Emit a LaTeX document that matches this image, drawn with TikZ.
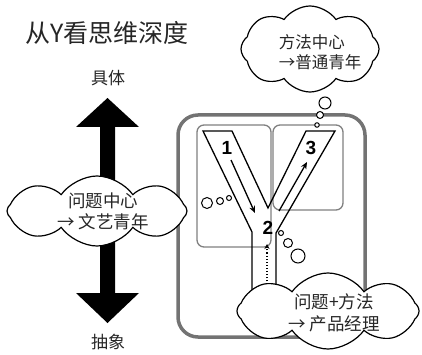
\documentclass[tikz,border=0pt]{standalone}
\usepackage{fontspec}
\setmainfont{Noto Sans CJK SC}
\newfontfamily\numfont{Liberation Sans}
\usetikzlibrary{shapes.symbols,arrows.meta}
\begin{document}
\begin{tikzpicture}[x=1pt,y=-1pt,
  txt/.style={text=black!85, inner sep=0pt},
  thought/.style={cloud, cloud puffs=8, cloud puff arc=110, cloud ignores aspect, draw=black, line width=1.2pt, fill=white, inner sep=0pt},
  bubble/.style={circle, draw=black, line width=1pt, fill=white, inner sep=0pt},
  panel/.style={draw=black!50, line width=1.3pt, rounded corners=7pt},
  frame/.style={draw=black!55, line width=3.5pt, rounded corners=20pt},
  yline/.style={draw=black, line width=1.3pt, line join=miter},
  flow/.style={draw=black, line width=1.3pt, -{Stealth[length=7pt,width=6pt]}},
  num/.style={font=\numfont\bfseries\fontsize{19}{19}\selectfont, inner sep=0pt}
]
\useasboundingbox (0,0) rectangle (422,355);

% title
\node[txt, font=\fontsize{25}{25}\selectfont] (title) at (107,33) {从Y看思维深度};

% vertical axis labels
\node[txt, font=\fontsize{17}{17}\selectfont] (top) at (108,78) {具体};
\node[txt, font=\fontsize{17}{17}\selectfont] (bottom) at (108,342) {抽象};

% big double arrow
\fill[black] (107.5,98) -- (139,127) -- (115,127) -- (115,293) -- (139,293)
  -- (107.5,323) -- (76,293) -- (100,293) -- (100,127) -- (76,127) -- cycle;

% device frame and panels
\draw[frame] (178,115) rectangle (365,337);
\draw[panel] (197,125) rectangle (271,247);
\draw[panel] (273,125) rectangle (343,210);

% Y shape
\draw[yline] (252,305) -- (252,232) -- (203,131) -- (232,131) -- (268,208)
  -- (306,131) -- (335,131) -- (276,233) -- (276,305);

% numbers
\node[num] (n1) at (227,148) {1};
\node[num] (n2) at (268,228) {2};
\node[num] (n3) at (311,148) {3};

% flow arrows
\coordinate (a1s) at (231,160);
\coordinate (a1e) at (255,213);
\coordinate (a2s) at (279,211);
\coordinate (a2e) at (307,162);
\coordinate (dots) at (267,300);
\coordinate (dote) at (267,244);
\draw[flow] (a1s) -- (a1e);
\draw[flow] (a2s) -- (a2e);
\draw[draw=black, line width=1.1pt, dotted, -{Stealth[length=5pt,width=5pt]}] (dots) -- (dote);

% clouds
\node[thought, minimum width=180pt, minimum height=70pt] (left) at (97,211) {};
\node[txt, font=\fontsize{17.5}{21}\selectfont, align=center] (lefttxt) at (103,211) {问题中心\\→ 文艺青年};
\node[thought, minimum width=138pt, minimum height=86pt] (topc) at (310,49) {};
\node[txt, font=\fontsize{16.5}{20}\selectfont, align=left] (toptxt) at (320,52) {方法中心\\→普通青年};
\node[thought, minimum width=182pt, minimum height=76pt] (botc) at (328,311) {};
\node[txt, font=\fontsize{17.5}{22}\selectfont, align=center] (bottxt) at (334,313) {问题+方法\\→ 产品经理};

% thought bubbles
\node[bubble, minimum size=11pt] (l1) at (207,203) {};
\node[bubble, minimum size=7pt] (l2) at (220,201) {};
\node[bubble, minimum size=5pt] (l3) at (229,198) {};
\node[bubble, minimum size=12pt] (t1) at (325,103) {};
\node[bubble, minimum size=7pt] (t2) at (320,115) {};
\node[bubble, minimum size=4.5pt] (t3) at (317,125) {};
\node[bubble, minimum size=5pt] (b1) at (281,233) {};
\node[bubble, minimum size=9pt] (b2) at (288,243) {};
\node[bubble, minimum size=14pt] (b3) at (298,256) {};
\end{tikzpicture}
\end{document}
